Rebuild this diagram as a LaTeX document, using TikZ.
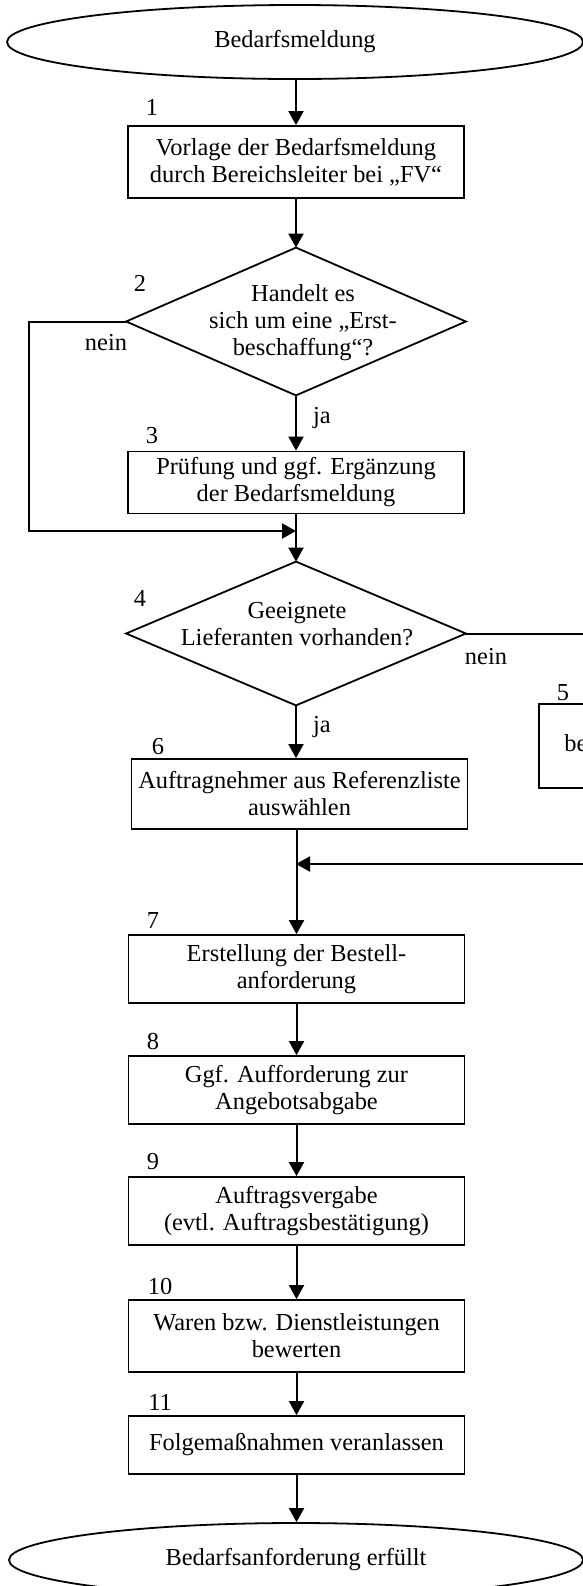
\documentclass[tikz,border=0pt]{standalone}
\usepackage{fontspec}
\setmainfont{Liberation Serif}
\usetikzlibrary{arrows.meta,shapes.geometric}
\begin{document}
\begin{tikzpicture}[x=0.5pt,y=-0.5pt,
  every node/.style={font=\fontsize{12.2}{13.5}\selectfont},
  stepbox/.style={draw,line width=0.9pt,minimum width=168pt,minimum height=34pt,inner sep=0pt,align=center},
  terminal/.style={draw,ellipse,line width=0.9pt,inner sep=0pt},
  decision/.style={inner sep=0pt},
  rhombus/.style={line width=0.9pt},
  numlabel/.style={inner sep=0pt},
  flow/.style={line width=1pt,-{Triangle[length=7pt,width=7.5pt]}},
]
\useasboundingbox (0,0) rectangle (583,1586);
\clip (0,0) rectangle (583,1586);

% start and end
\node[terminal,minimum width=288pt,minimum height=37pt] (e1) at (295,42) {Bedarfsmeldung};
\node[terminal,minimum width=287pt,minimum height=37pt] (e2) at (296,1560) {Bedarfsanforderung erfüllt};

% process steps
\node[stepbox,minimum height=36pt] (b1) at (296,162) {Vorlage der Bedarfsmeldung\\durch Bereichsleiter bei „FV“};
\node[stepbox,minimum height=31pt] (b3) at (296,482.5) {Prüfung und ggf. Ergänzung\\der Bedarfsmeldung};
\node[stepbox,minimum height=42pt] (b5) at (707,746) {};
\node[anchor=base west,inner sep=0pt] (b5t) at (564,751) {be};
\node[stepbox,minimum height=35pt] (b6) at (299.5,794) {Auftragnehmer aus Referenzliste\\auswählen};
\node[stepbox] (b7) at (296.5,969) {Erstellung der Bestell-\\anforderung};
\node[stepbox] (b8) at (296.5,1090) {Ggf. Aufforderung zur\\Angebotsabgabe};
\node[stepbox] (b9) at (296.5,1211) {Auftragsvergabe\\(evtl. Auftragsbestätigung)};
\node[stepbox,minimum height=36pt] (b10) at (296.5,1336) {Waren bzw. Dienstleistungen\\bewerten};
\node[stepbox,minimum height=29pt] (b11) at (296.5,1445) {Folgemaßnahmen veranlassen};

% decisions
\node[decision,minimum width=169.5pt,minimum height=73.5pt] (d2) at (296,321.5) {};
\draw[rhombus] (d2.north) -- (d2.east) -- (d2.south) -- (d2.west) -- cycle;
\node[align=center,inner sep=0pt] (t2) at (303,323) {Handelt es\\sich um eine „Erst-\\beschaffung“?};
\node[decision,minimum width=169.5pt,minimum height=71.5pt] (d4) at (296,633.5) {};
\draw[rhombus] (d4.north) -- (d4.east) -- (d4.south) -- (d4.west) -- cycle;
\node[align=center,inner sep=0pt] (t4) at (297,624) {Geeignete\\Lieferanten vorhanden?};

% step numbers
\node[numlabel] (n1) at (152,107) {1};
\node[numlabel] (n2) at (140,283) {2};
\node[numlabel] (n3) at (152,436) {3};
\node[numlabel] (n4) at (140,598) {4};
\node[numlabel] (n5) at (563,693) {5};
\node[numlabel] (n6) at (158,747) {6};
\node[numlabel] (n7) at (153,920) {7};
\node[numlabel] (n8) at (153,1041) {8};
\node[numlabel] (n9) at (153,1162) {9};
\node[numlabel] (n10) at (160,1286) {10};
\node[numlabel] (n11) at (160,1402) {11};

% branch labels
\node[inner sep=0pt] (nein2) at (106,343) {nein};
\node[inner sep=0pt] (ja2) at (322,418) {ja};
\node[inner sep=0pt] (nein4) at (486,657) {nein};
\node[inner sep=0pt] (ja4) at (322,727) {ja};

% junctions
\coordinate (j1) at (296,531);
\coordinate (loop) at (29,531);
\coordinate (j2) at (296,864);

% connectors
\draw[flow] (e1.south -| b1.north) -- (b1.north);
\draw[flow] (b1.south) -- (d2.north);
\draw[flow] (d2.south) -- (b3.north);
\draw[flow] (d2.west) -| (loop) -- (j1);
\draw[flow] (b3.south) -- (d4.north);
\draw[flow] (d4.east) -| (b5.north);
\draw[flow] (b5.south) |- (j2);
\draw[flow] (d4.south) -- (d4.south |- b6.north);
\draw[flow] (b6.south -| b7.north) -- (b7.north);
\draw[flow] (b7.south) -- (b8.north);
\draw[flow] (b8.south) -- (b9.north);
\draw[flow] (b9.south) -- (b10.north);
\draw[flow] (b10.south) -- (b11.north);
\draw[flow] (b11.south) -- (b11.south |- e2.north);
\end{tikzpicture}
\end{document}
